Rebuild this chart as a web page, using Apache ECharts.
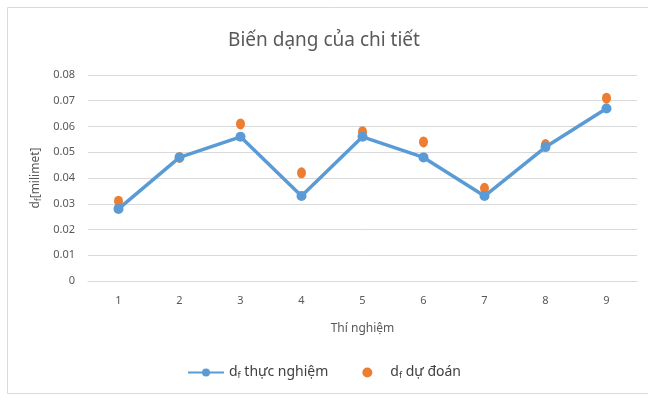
<!DOCTYPE html>
<html>
<head>
<meta charset="utf-8">
<script src="https://cdn.jsdelivr.net/npm/echarts@6/dist/echarts.min.js"></script>
<style>
  html, body { margin: 0; padding: 0; background: #fff; }
  #chart { width: 648px; height: 401px; }
</style>
</head>
<body>
<div id="chart"></div>
<script>
// data
var categories = ['1', '2', '3', '4', '5', '6', '7', '8', '9'];
var thucNghiem = [0.028, 0.048, 0.056, 0.033, 0.056, 0.048, 0.033, 0.052, 0.067];
var duDoan = [0.031, 0.048, 0.061, 0.042, 0.058, 0.054, 0.036, 0.053, 0.071];

var textColor = '#595959';
var font = 'Noto Sans';

var myChart = echarts.init(document.getElementById('chart'));

var option = {
    animation: false,
    textStyle: { fontFamily: font },
    title: {
        text: 'Biến dạng của chi tiết',
        left: 'center',
        top: 26,
        textStyle: { color: textColor, fontSize: 19, fontWeight: 'normal', fontFamily: font }
    },
    graphic: [{
        type: 'rect',
        shape: { x: 7.5, y: 7.5, width: 660, height: 386 },
        style: { fill: 'none', stroke: '#d9d9d9', lineWidth: 1 },
        silent: true
    }],
    legend: {
        bottom: 16,
        left: 'center',
        itemGap: 34,
        itemWidth: 36,
        itemHeight: 10,
        textStyle: { color: '#404040', fontSize: 14, rich: { s: { fontSize: 9, color: '#404040', padding: [6, 0, 0, 0] }, n: { fontSize: 14, color: '#404040' } } },
        formatter: function (name) {
            return name === 'tn' ? '{n|d}{s|f}{n| thực nghiệm}' : '{n|d}{s|f}{n| dự đoán}';
        },
        data: ['tn', 'dd']
    },
    grid: { left: 88, right: 11, top: 75, bottom: 120 },
    xAxis: {
        type: 'category',
        data: categories,
        name: 'Thí nghiệm',
        nameLocation: 'middle',
        nameGap: 42,
        nameTextStyle: { color: textColor, fontSize: 12 },
        axisLine: { lineStyle: { color: '#d9d9d9' } },
        axisTick: { show: false },
        axisLabel: { color: textColor, fontSize: 11, margin: 14 }
    },
    yAxis: {
        type: 'value',
        min: 0,
        max: 0.08,
        interval: 0.01,
        name: '{n|d}{s|f}{n|[milimet]}',
        nameLocation: 'middle',
        nameRotate: 90,
        nameGap: 43,
        nameTextStyle: {
            color: textColor,
            rich: {
                n: { fontSize: 12, color: textColor },
                s: { fontSize: 8, color: textColor, padding: [6, 0, 0, 0] }
            }
        },
        axisLine: { show: false },
        axisTick: { show: false },
        splitLine: { lineStyle: { color: '#d9d9d9' } },
        axisLabel: {
            color: textColor,
            fontSize: 11,
            margin: 13,
            formatter: function (v) { return v === 0 ? '0' : v.toFixed(2); }
        }
    },
    series: [
        {
            name: 'tn',
            type: 'line',
            data: thucNghiem,
            symbol: 'circle',
            symbolSize: 10,
            lineStyle: { color: '#5b9bd5', width: 3.5 },
            itemStyle: { color: '#5b9bd5' }
        },
        {
            name: 'dd',
            type: 'scatter',
            data: duDoan,
            symbol: 'circle',
            symbolSize: [9, 11],
            itemStyle: { color: '#ed7d31', opacity: 1 }
        }
    ]
};

myChart.setOption(option);
</script>
</body>
</html>
